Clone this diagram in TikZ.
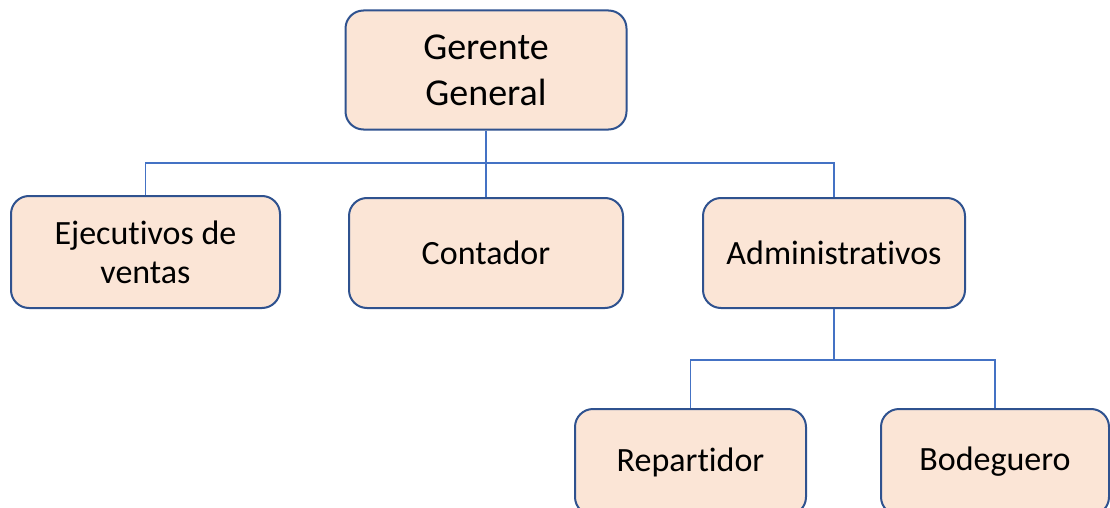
\documentclass[tikz,border=0pt]{standalone}
\usepackage{fontspec}
\setmainfont{Carlito}[Ligatures={NoCommon,NoRare}, RawFeature={-liga;-clig;-dlig}]
\definecolor{boxfill}{HTML}{FBE5D6}
\definecolor{boxdraw}{HTML}{2F528F}
\definecolor{conncol}{HTML}{4472C4}
\tikzset{
  box/.style={draw=boxdraw, line width=2pt, fill=boxfill, rounded corners=18pt,
    align=center, inner sep=0pt, font=\fontsize{34}{39}\selectfont},
  conn/.style={draw=conncol, line width=1.1pt},
}
\begin{document}
\begin{tikzpicture}[x=1pt,y=-1pt]
\useasboundingbox (0,0) rectangle (1110,508);
\clip (0,0) rectangle (1110,508);
\node[box, minimum width=281pt, minimum height=119pt, font=\fontsize{38}{46}\selectfont] (gg) at (486,70) {Gerente\\General};
\node[box, minimum width=269pt, minimum height=112pt] (ej) at (145.5,252) {Ejecutivos de\\ventas};
\node[box, minimum width=274pt, minimum height=110pt] (co) at (486,253) {Contador};
\node[box, minimum width=262pt, minimum height=110pt] (ad) at (834,253) {Administrativos};
\node[box, minimum width=231pt, minimum height=106pt] (re) at (690.5,462) {Repartidor};
\node[box, minimum width=228pt, minimum height=106pt] (bo) at (995,462) {Bodeguero};
\coordinate (bus1) at (486,163);
\coordinate (bus2) at (834,360);
\draw[conn] (gg.south) -- (co.north);
\draw[conn] (ej.north) |- (bus1) -| (ad.north);
\draw[conn] (ad.south) -- (bus2);
\draw[conn] (re.north) |- (bus2) -| (bo.north);
\end{tikzpicture}
\end{document}
